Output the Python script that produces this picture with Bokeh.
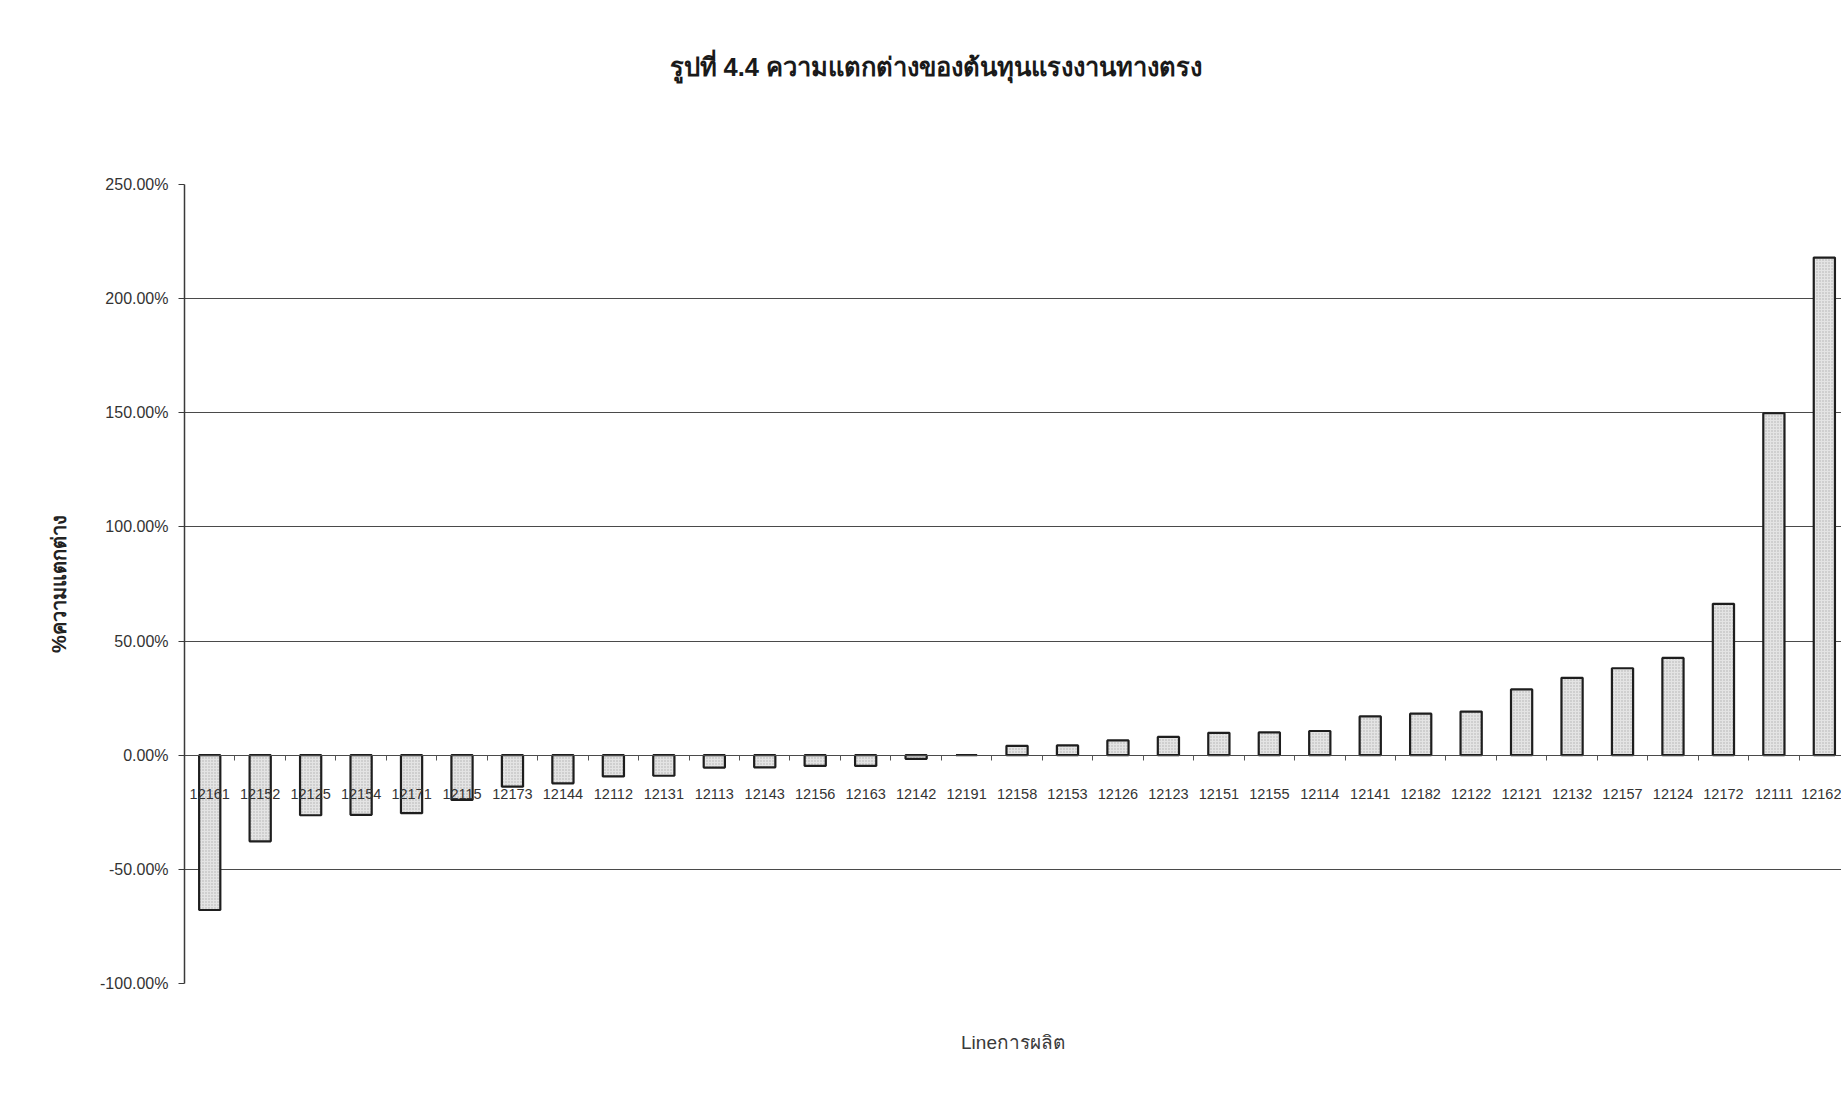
from bokeh.plotting import figure
from bokeh.models import Range1d, FixedTicker, PrintfTickFormatter, Title, Grid, LinearAxis
from bokeh.embed import file_html
from bokeh.resources import INLINE

# Production lines, ordered by cost variance
lines = ["12161", "12152", "12125", "12154", "12171", "12115", "12173", "12144",
         "12112", "12131", "12113", "12143", "12156", "12163", "12142", "12191",
         "12158", "12153", "12126", "12123", "12151", "12155", "12114", "12141",
         "12182", "12122", "12121", "12132", "12157", "12124", "12172", "12111",
         "12162"]

# Direct labour cost variance, percent
variance_pct = [-67.8, -37.7, -26.3, -26.1, -25.4, -19.6, -13.8, -12.3,
                -9.3, -9.0, -5.4, -5.3, -4.7, -4.7, -1.6, 0.0,
                4.1, 4.3, 6.5, 8.0, 9.8, 10.0, 10.6, 17.0,
                18.2, 19.1, 28.8, 33.9, 38.1, 42.6, 66.3, 149.8,
                218.0]

y_ticks = [-100, -50, 0, 50, 100, 150, 200, 250]

title_text = "รูปที่ 4.4 ความแตกต่างของต้นทุนแรงงานทางตรง"
y_title = "%ความแตกต่าง"
x_title = "Lineการผลิต"

FONT = "Liberation Sans"
TEXT = "#333333"

positions = list(range(len(lines)))

p = figure(width=1841, height=1094, output_backend="svg", toolbar_location=None,
           x_range=Range1d(-0.5, 32.34), y_range=Range1d(-100, 250),
           min_border_left=184, min_border_right=0, min_border_top=184,
           min_border_bottom=111, background_fill_color="white",
           border_fill_color="white", outline_line_color=None)

p.vbar(x=positions, top=variance_pct, bottom=0, width=0.42,
       fill_color="#e4e4e4", line_color="#1e1e1e", line_width=2.2,
       hatch_pattern=".", hatch_color="#7a7a7a", hatch_alpha=0.5, hatch_scale=3)

# category axis sits on the zero line
xa = p.xaxis[0]
xa.fixed_location = 0
xa.ticker = FixedTicker(ticks=positions, minor_ticks=[i + 0.5 for i in positions])
xa.major_label_overrides = {i: name for i, name in enumerate(lines)}
xa.major_tick_out = 0
xa.major_tick_in = 0
xa.minor_tick_out = 5
xa.minor_tick_in = 0
xa.minor_tick_line_color = "#555555"
xa.axis_line_color = "#4a4a4a"
xa.axis_line_width = 1.2
xa.major_label_standoff = 29
xa.major_label_text_font = FONT
xa.major_label_text_font_size = "14.5px"
xa.major_label_text_color = TEXT

# axis below the frame that only carries the x title
x_title_axis = LinearAxis(ticker=FixedTicker(ticks=[]), axis_line_color=None,
                          major_tick_out=0, major_tick_in=0, minor_tick_out=0,
                          minor_tick_in=0, major_label_standoff=0,
                          axis_label=x_title, axis_label_standoff=48,
                          axis_label_text_font=FONT, axis_label_text_font_style="normal",
                          axis_label_text_font_size="19px", axis_label_text_color="#3a3a3a")
p.add_layout(x_title_axis, "below")

# blank band between heading and plot: one white tick, no label
top_gap = LinearAxis(ticker=FixedTicker(ticks=[-0.5]), axis_line_color=None,
                     major_tick_out=99, major_tick_in=0, minor_tick_out=0,
                     minor_tick_in=0, major_label_standoff=0,
                     major_tick_line_color="white", major_label_text_color=None)
p.add_layout(top_gap, "above")

ya = p.yaxis[0]
ya.ticker = FixedTicker(ticks=y_ticks)
ya.formatter = PrintfTickFormatter(format="%.2f%%")
ya.major_tick_out = 6
ya.major_tick_in = 0
ya.minor_tick_out = 0
ya.minor_tick_in = 0
ya.axis_line_color = "#3a3a3a"
ya.axis_line_width = 1.5
ya.major_tick_line_color = "#3a3a3a"
ya.major_label_standoff = 10
ya.major_label_text_font = FONT
ya.major_label_text_font_size = "16px"
ya.major_label_text_color = TEXT
ya.axis_label = y_title
ya.axis_label_text_font = FONT
ya.axis_label_text_font_style = "bold"
ya.axis_label_text_font_size = "20px"
ya.axis_label_text_color = "#222222"
ya.axis_label_standoff = 27

p.xgrid.visible = False
p.ygrid.ticker = FixedTicker(ticks=[-50, 50, 100, 150, 200])
p.ygrid.grid_line_color = "#4a4a4a"
p.ygrid.grid_line_width = 1

edge_grid = Grid(dimension=1, ticker=FixedTicker(ticks=[-100, 250]),
                 grid_line_color="#8a8a8a", grid_line_dash="2 2", grid_line_width=1.5)
p.add_layout(edge_grid)

p.title = Title(text=title_text, align="left", offset=485, standoff=10,
                text_font=FONT, text_font_style="bold", text_font_size="25.5px",
                text_color="#1a1a1a")

open("out.html", "w").write(file_html(p, INLINE))
